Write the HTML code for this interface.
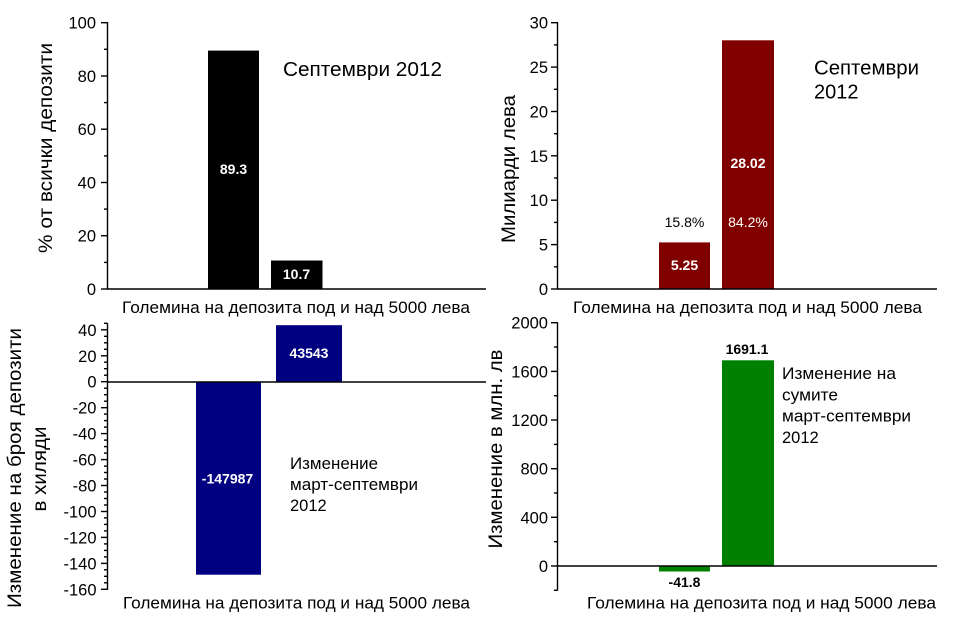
<!DOCTYPE html>
<html>
<head>
<meta charset="utf-8">
<style>
  html,body{margin:0;padding:0;background:#fff;}
  svg{display:block;}
  text{font-family:"Liberation Sans","DejaVu Sans",sans-serif;fill:#000;}
  .tk{font-size:16.5px;text-anchor:end;}
  .ax{font-size:19px;text-anchor:middle;}
  .xl{font-size:16.5px;text-anchor:middle;}
  .vb{font-size:14px;font-weight:bold;text-anchor:middle;}
  .vn{font-size:14px;text-anchor:middle;}
  .an{font-size:16.5px;}
  .big{font-size:20px;}
  line{stroke:#000;stroke-width:1.4;}
</style>
</head>
<body>
<svg width="953" height="632" viewBox="0 0 953 632" xmlns="http://www.w3.org/2000/svg">
<rect x="0" y="0" width="953" height="632" fill="#fff"/>

<!-- ============ TOP LEFT ============ -->
<rect x="208" y="50.6" width="51" height="238.4" fill="#000"/>
<rect x="271" y="260.5" width="51.5" height="28.5" fill="#000"/>
<line x1="107.5" y1="22" x2="107.5" y2="289.5"/>
<line x1="107" y1="289" x2="486" y2="289"/>
<line x1="101" y1="289" x2="107.5" y2="289"/>
<line x1="101" y1="235.7" x2="107.5" y2="235.7"/>
<line x1="101" y1="182.5" x2="107.5" y2="182.5"/>
<line x1="101" y1="129.2" x2="107.5" y2="129.2"/>
<line x1="101" y1="76" x2="107.5" y2="76"/>
<line x1="101" y1="22.7" x2="107.5" y2="22.7"/>
<line x1="104" y1="262.4" x2="107.5" y2="262.4"/>
<line x1="104" y1="209.1" x2="107.5" y2="209.1"/>
<line x1="104" y1="155.9" x2="107.5" y2="155.9"/>
<line x1="104" y1="102.6" x2="107.5" y2="102.6"/>
<line x1="104" y1="49.3" x2="107.5" y2="49.3"/>
<text class="tk" x="96" y="295">0</text>
<text class="tk" x="96" y="241.7">20</text>
<text class="tk" x="96" y="188.5">40</text>
<text class="tk" x="96" y="135.2">60</text>
<text class="tk" x="96" y="82">80</text>
<text class="tk" x="96" y="28.7">100</text>
<text class="ax" transform="translate(52,148) rotate(-90)" textLength="210" lengthAdjust="spacingAndGlyphs">% от всички депозити</text>
<text class="xl" x="296" y="313" textLength="348" lengthAdjust="spacingAndGlyphs">Големина на депозита под и над 5000 лева</text>
<text class="big" x="283" y="76" textLength="159" lengthAdjust="spacingAndGlyphs">Септември 2012</text>
<text class="vb" x="233.5" y="174" style="fill:#fff">89.3</text>
<text class="vb" x="296.5" y="279" style="fill:#fff">10.7</text>

<!-- ============ TOP RIGHT ============ -->
<rect x="659" y="242.4" width="51" height="46.6" fill="#800000"/>
<rect x="722" y="40.3" width="52" height="248.7" fill="#800000"/>
<line x1="557.5" y1="22" x2="557.5" y2="289.5"/>
<line x1="557" y1="289" x2="937" y2="289"/>
<line x1="551" y1="289" x2="557.5" y2="289"/>
<line x1="551" y1="244.6" x2="557.5" y2="244.6"/>
<line x1="551" y1="200.2" x2="557.5" y2="200.2"/>
<line x1="551" y1="155.8" x2="557.5" y2="155.8"/>
<line x1="551" y1="111.5" x2="557.5" y2="111.5"/>
<line x1="551" y1="67.1" x2="557.5" y2="67.1"/>
<line x1="551" y1="22.7" x2="557.5" y2="22.7"/>
<line x1="554" y1="266.8" x2="557.5" y2="266.8"/>
<line x1="554" y1="222.4" x2="557.5" y2="222.4"/>
<line x1="554" y1="178" x2="557.5" y2="178"/>
<line x1="554" y1="133.7" x2="557.5" y2="133.7"/>
<line x1="554" y1="89.3" x2="557.5" y2="89.3"/>
<line x1="554" y1="44.9" x2="557.5" y2="44.9"/>
<text class="tk" x="548" y="295">0</text>
<text class="tk" x="548" y="250.6">5</text>
<text class="tk" x="548" y="206.2">10</text>
<text class="tk" x="548" y="161.8">15</text>
<text class="tk" x="548" y="117.5">20</text>
<text class="tk" x="548" y="73.1">25</text>
<text class="tk" x="548" y="28.7">30</text>
<text class="ax" transform="translate(515,169) rotate(-90)" textLength="148" lengthAdjust="spacingAndGlyphs">Милиарди лева</text>
<text class="xl" x="747.5" y="313" textLength="349" lengthAdjust="spacingAndGlyphs">Големина на депозита под и над 5000 лева</text>
<text class="big" x="814" y="74.5" textLength="105" lengthAdjust="spacingAndGlyphs">Септември</text>
<text class="big" x="814" y="98.5">2012</text>
<text class="vb" x="748" y="168" style="fill:#fff">28.02</text>
<text class="vn" x="748" y="227" style="fill:#fff">84.2%</text>
<text class="vn" x="684.5" y="227">15.8%</text>
<text class="vb" x="684.5" y="270" style="fill:#fff">5.25</text>

<!-- ============ BOTTOM LEFT ============ -->
<rect x="196" y="381.7" width="65" height="193" fill="#000080"/>
<rect x="276" y="325.2" width="66" height="56.5" fill="#000080"/>
<line x1="107.5" y1="323.3" x2="107.5" y2="589.8"/>
<line x1="107" y1="382" x2="486" y2="382"/>
<line x1="101" y1="329.8" x2="107.5" y2="329.8"/>
<line x1="101" y1="355.8" x2="107.5" y2="355.8"/>
<line x1="101" y1="381.7" x2="107.5" y2="381.7"/>
<line x1="101" y1="407.7" x2="107.5" y2="407.7"/>
<line x1="101" y1="433.6" x2="107.5" y2="433.6"/>
<line x1="101" y1="459.6" x2="107.5" y2="459.6"/>
<line x1="101" y1="485.5" x2="107.5" y2="485.5"/>
<line x1="101" y1="511.5" x2="107.5" y2="511.5"/>
<line x1="101" y1="537.4" x2="107.5" y2="537.4"/>
<line x1="101" y1="563.4" x2="107.5" y2="563.4"/>
<line x1="101" y1="589.3" x2="107.5" y2="589.3"/>
<g>
<line x1="104" y1="323.3" x2="107.5" y2="323.3"/>
<line x1="104" y1="336.3" x2="107.5" y2="336.3"/>
<line x1="104" y1="342.8" x2="107.5" y2="342.8"/>
<line x1="104" y1="349.3" x2="107.5" y2="349.3"/>
<line x1="104" y1="362.2" x2="107.5" y2="362.2"/>
<line x1="104" y1="368.7" x2="107.5" y2="368.7"/>
<line x1="104" y1="375.2" x2="107.5" y2="375.2"/>
<line x1="104" y1="388.2" x2="107.5" y2="388.2"/>
<line x1="104" y1="394.7" x2="107.5" y2="394.7"/>
<line x1="104" y1="401.2" x2="107.5" y2="401.2"/>
<line x1="104" y1="414.1" x2="107.5" y2="414.1"/>
<line x1="104" y1="420.6" x2="107.5" y2="420.6"/>
<line x1="104" y1="427.1" x2="107.5" y2="427.1"/>
<line x1="104" y1="440.1" x2="107.5" y2="440.1"/>
<line x1="104" y1="446.6" x2="107.5" y2="446.6"/>
<line x1="104" y1="453.1" x2="107.5" y2="453.1"/>
<line x1="104" y1="466.1" x2="107.5" y2="466.1"/>
<line x1="104" y1="472.5" x2="107.5" y2="472.5"/>
<line x1="104" y1="479" x2="107.5" y2="479"/>
<line x1="104" y1="492" x2="107.5" y2="492"/>
<line x1="104" y1="498.5" x2="107.5" y2="498.5"/>
<line x1="104" y1="505" x2="107.5" y2="505"/>
<line x1="104" y1="517.9" x2="107.5" y2="517.9"/>
<line x1="104" y1="524.4" x2="107.5" y2="524.4"/>
<line x1="104" y1="530.9" x2="107.5" y2="530.9"/>
<line x1="104" y1="543.9" x2="107.5" y2="543.9"/>
<line x1="104" y1="550.4" x2="107.5" y2="550.4"/>
<line x1="104" y1="556.9" x2="107.5" y2="556.9"/>
<line x1="104" y1="569.8" x2="107.5" y2="569.8"/>
<line x1="104" y1="576.3" x2="107.5" y2="576.3"/>
<line x1="104" y1="582.8" x2="107.5" y2="582.8"/>
</g>
<text class="tk" x="96.5" y="335.8">40</text>
<text class="tk" x="96.5" y="361.8">20</text>
<text class="tk" x="96.5" y="387.7">0</text>
<text class="tk" x="96.5" y="413.7">-20</text>
<text class="tk" x="96.5" y="439.6">-40</text>
<text class="tk" x="96.5" y="465.6">-60</text>
<text class="tk" x="96.5" y="491.5">-80</text>
<text class="tk" x="96.5" y="517.5">-100</text>
<text class="tk" x="96.5" y="543.4">-120</text>
<text class="tk" x="96.5" y="569.4">-140</text>
<text class="tk" x="96.5" y="595.3">-160</text>
<text class="ax" transform="translate(21,468) rotate(-90)" textLength="280" lengthAdjust="spacingAndGlyphs">Изменение на броя депозити</text>
<text class="ax" transform="translate(46,469) rotate(-90)" textLength="85" lengthAdjust="spacingAndGlyphs">в хиляди</text>
<text class="xl" x="296.5" y="608.5" textLength="347" lengthAdjust="spacingAndGlyphs">Големина на депозита под и над 5000 лева</text>
<text class="vb" x="227.5" y="483.3" style="fill:#fff">-147987</text>
<text class="vb" x="309" y="358" style="fill:#fff">43543</text>
<text class="an" x="290" y="469" textLength="88" lengthAdjust="spacingAndGlyphs">Изменение</text>
<text class="an" x="290" y="490" textLength="128" lengthAdjust="spacingAndGlyphs">март-септември</text>
<text class="an" x="290" y="511">2012</text>

<!-- ============ BOTTOM RIGHT ============ -->
<rect x="659" y="566" width="51" height="5.5" fill="#008000"/>
<rect x="722" y="360.3" width="52" height="205.7" fill="#008000"/>
<line x1="557.5" y1="322.3" x2="557.5" y2="590.6"/>
<line x1="557" y1="566" x2="937" y2="566"/>
<line x1="551" y1="566" x2="557.5" y2="566"/>
<line x1="551" y1="517.3" x2="557.5" y2="517.3"/>
<line x1="551" y1="468.7" x2="557.5" y2="468.7"/>
<line x1="551" y1="420" x2="557.5" y2="420"/>
<line x1="551" y1="371.4" x2="557.5" y2="371.4"/>
<line x1="551" y1="322.7" x2="557.5" y2="322.7"/>
<line x1="554" y1="590.3" x2="557.5" y2="590.3"/>
<line x1="554" y1="541.7" x2="557.5" y2="541.7"/>
<line x1="554" y1="493" x2="557.5" y2="493"/>
<line x1="554" y1="444.4" x2="557.5" y2="444.4"/>
<line x1="554" y1="395.7" x2="557.5" y2="395.7"/>
<line x1="554" y1="347" x2="557.5" y2="347"/>
<text class="tk" x="548" y="572">0</text>
<text class="tk" x="548" y="523.3">400</text>
<text class="tk" x="548" y="474.7">800</text>
<text class="tk" x="548" y="426">1200</text>
<text class="tk" x="548" y="377.4">1600</text>
<text class="tk" x="548" y="328.7">2000</text>
<text class="ax" transform="translate(502,449) rotate(-90)" textLength="199" lengthAdjust="spacingAndGlyphs">Изменение в млн. лв</text>
<text class="xl" x="761.5" y="608.5" textLength="349" lengthAdjust="spacingAndGlyphs">Големина на депозита под и над 5000 лева</text>
<text class="vb" x="747" y="354">1691.1</text>
<text class="vb" x="684.5" y="587">-41.8</text>
<text class="an" x="782" y="379" textLength="114" lengthAdjust="spacingAndGlyphs">Изменение на</text>
<text class="an" x="782" y="400.3" textLength="56" lengthAdjust="spacingAndGlyphs">сумите</text>
<text class="an" x="782" y="421.6" textLength="129" lengthAdjust="spacingAndGlyphs">март-септември</text>
<text class="an" x="782" y="443">2012</text>
</svg>
</body>
</html>
